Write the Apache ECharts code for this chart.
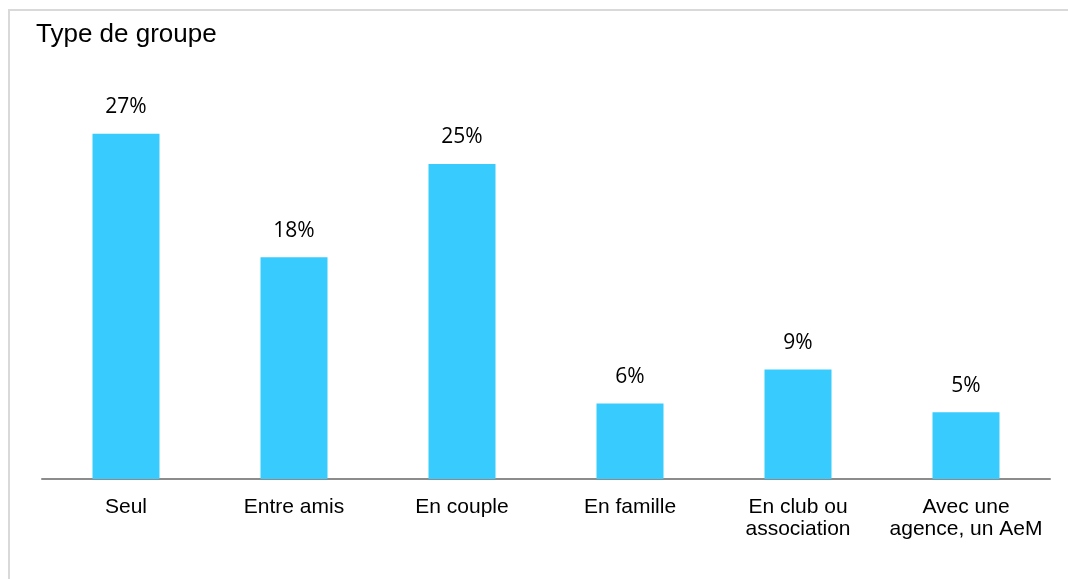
<!DOCTYPE html>
<html>
<head>
<meta charset="utf-8">
<script src="https://cdn.jsdelivr.net/npm/echarts@6/dist/echarts.min.js"></script>
<style>
  html, body { margin: 0; padding: 0; background: #fff; }
  #chart { width: 1068px; height: 579px; }
</style>
</head>
<body>
<div id="chart"></div>
<script>
// categories and values (percent)
var categories = ['Seul', 'Entre amis', 'En couple', 'En famille', 'En club ou\nassociation', 'Avec une\nagence, un AeM'];
var values = [27.4, 17.6, 25.0, 6.0, 8.7, 5.3];

var chart = echarts.init(document.getElementById('chart'));
chart.setOption({
  animation: false,
  title: {
    text: 'Type de groupe',
    left: 31,
    top: 17,
    textStyle: { fontFamily: 'Liberation Sans', fontSize: 26, fontWeight: 'normal', color: '#000' }
  },
  graphic: [{
    type: 'rect',
    shape: { x: 9, y: 10, width: 1200, height: 700 },
    style: { fill: 'none', stroke: '#d9d9d9', lineWidth: 2 },
    silent: true
  }],
  grid: { left: 42, right: 18, top: 101, bottom: 100 },
  xAxis: {
    type: 'category',
    data: categories,
    axisLine: { lineStyle: { color: '#8c8c8c', width: 2 } },
    axisTick: { show: false },
    axisLabel: {
      fontFamily: 'Liberation Sans', fontSize: 21, color: '#000',
      margin: 17, lineHeight: 22, interval: 0
    }
  },
  yAxis: {
    type: 'value',
    min: 0,
    max: 30,
    show: false,
    splitLine: { show: false }
  },
  series: [{
    type: 'bar',
    data: values,
    barWidth: 67,
    itemStyle: { color: '#38CBFE' },
    label: {
      show: true,
      position: 'top',
      distance: 16,
      fontFamily: 'Open Sans',
      fontSize: 21,
      color: '#000',
      formatter: function (p) { return Math.round(p.value) + '%'; }
    }
  }]
});
</script>
</body>
</html>
